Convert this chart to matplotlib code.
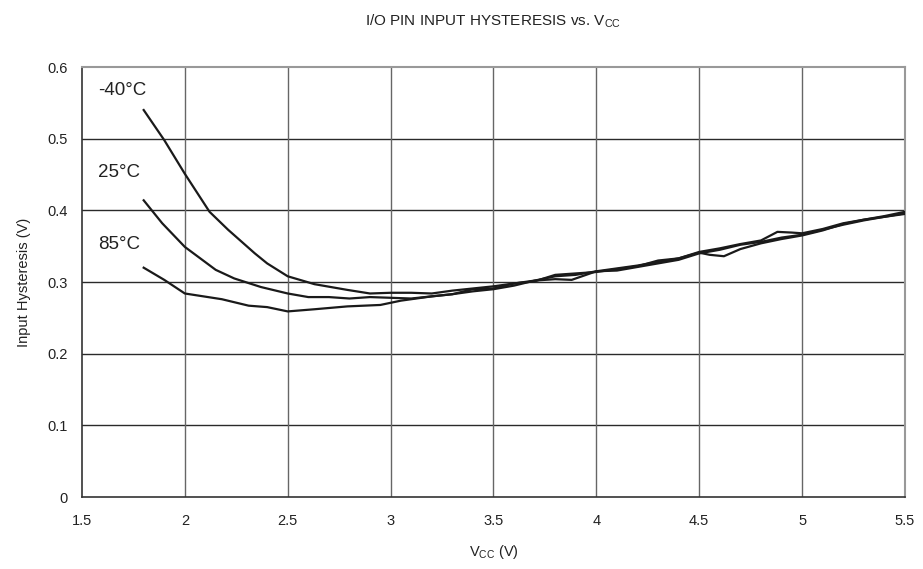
import matplotlib
matplotlib.use("Agg")
import matplotlib.pyplot as plt

plt.rcParams['font.family'] = ['Liberation Sans', 'DejaVu Sans']
plt.rcParams['mathtext.fontset'] = 'custom'
plt.rcParams['mathtext.rm'] = 'Liberation Sans'
plt.rcParams['mathtext.it'] = 'Liberation Sans'

# Data
x_m40 = [1.80, 1.90, 2.00, 2.12, 2.21, 2.34, 2.40, 2.50, 2.63, 2.79, 2.90, 3.00, 3.10, 3.20,
         3.30, 3.40, 3.50, 3.60, 3.70, 3.80, 3.90, 4.00, 4.10, 4.20, 4.30, 4.40, 4.50, 4.60,
         4.70, 4.80, 4.88, 4.95, 5.00, 5.10, 5.20, 5.30, 5.40, 5.50]
y_m40 = [0.540, 0.498, 0.451, 0.398, 0.373, 0.340, 0.326, 0.308, 0.297, 0.289, 0.284, 0.285,
         0.285, 0.284, 0.288, 0.291, 0.294, 0.298, 0.302, 0.308, 0.310, 0.315, 0.319, 0.323,
         0.328, 0.333, 0.342, 0.347, 0.353, 0.358, 0.370, 0.369, 0.368, 0.374, 0.382, 0.387,
         0.392, 0.398]

x_25 = [1.80, 1.89, 2.00, 2.15, 2.24, 2.37, 2.50, 2.60, 2.70, 2.80, 2.90, 3.00, 3.10, 3.20,
        3.30, 3.40, 3.50, 3.60, 3.70, 3.80, 3.90, 4.00, 4.10, 4.20, 4.30, 4.40, 4.50, 4.55,
        4.62, 4.70, 4.80, 4.90, 5.00, 5.10, 5.20, 5.30, 5.40, 5.50]
y_25 = [0.414, 0.382, 0.349, 0.317, 0.305, 0.293, 0.284, 0.279, 0.279, 0.277, 0.279, 0.278,
        0.277, 0.280, 0.283, 0.290, 0.291, 0.298, 0.301, 0.310, 0.312, 0.314, 0.318, 0.322,
        0.330, 0.333, 0.341, 0.338, 0.336, 0.346, 0.354, 0.360, 0.365, 0.372, 0.381, 0.387,
        0.391, 0.396]

x_85 = [1.80, 1.90, 2.00, 2.18, 2.31, 2.40, 2.50, 2.63, 2.79, 2.95, 3.05, 3.20, 3.30, 3.40,
        3.50, 3.60, 3.70, 3.80, 3.88, 3.95, 4.00, 4.10, 4.20, 4.30, 4.40, 4.50, 4.60, 4.70,
        4.80, 4.90, 5.00, 5.10, 5.20, 5.30, 5.40, 5.50]
y_85 = [0.320, 0.303, 0.284, 0.276, 0.267, 0.265, 0.259, 0.262, 0.266, 0.268, 0.274, 0.280,
        0.283, 0.287, 0.290, 0.295, 0.302, 0.304, 0.303, 0.310, 0.315, 0.316, 0.321, 0.326,
        0.331, 0.340, 0.345, 0.352, 0.356, 0.362, 0.366, 0.373, 0.380, 0.386, 0.391, 0.395]

series = [("-40°C", x_m40, y_m40, 0.567),
          ("25°C", x_25, y_25, 0.453),
          ("85°C", x_85, y_85, 0.353)]

x_ticks = [1.5, 2, 2.5, 3, 3.5, 4, 4.5, 5, 5.5]
x_labels = ["1.5", "2", "2.5", "3", "3.5", "4", "4.5", "5", "5.5"]
y_ticks = [0, 0.1, 0.2, 0.3, 0.4, 0.5, 0.6]
y_labels = ["0", "0.1", "0.2", "0.3", "0.4", "0.5", "0.6"]

fig = plt.figure(figsize=(9.23, 5.69), dpi=100)
ax = fig.add_axes([0.0888, 0.1265, 0.8917, 0.7557])

# grid: horizontal dark, vertical lighter
for yv in y_ticks[1:-1]:
    ax.axhline(yv, color="#2a2a2a", lw=1.0, zorder=1)
for xv in x_ticks[1:-1]:
    ax.axvline(xv, color="#666666", lw=1.0, zorder=1)

for name, xs, ys, ly in series:
    ax.plot(xs, ys, color="#1a1a1a", lw=1.6, zorder=3, solid_joinstyle="round")
    ax.text(1.577, ly, name, fontsize=13.5, ha="left", va="center", color="#222222")

ax.set_xlim(1.5, 5.5)
ax.set_ylim(0, 0.6)
ax.set_xticks(x_ticks)
ax.set_xticklabels(x_labels)
ax.set_yticks(y_ticks)
ax.set_yticklabels(y_labels)
ax.tick_params(axis="both", length=0, labelsize=10.5, colors="#222222")
ax.tick_params(axis="x", pad=12)
ax.tick_params(axis="y", pad=10)

for side in ["left", "bottom"]:
    ax.spines[side].set_color("#333333")
    ax.spines[side].set_linewidth(1.2)
for side in ["top", "right"]:
    ax.spines[side].set_color("#999999")
    ax.spines[side].set_linewidth(1.5)

ax.set_xlabel(r"V$_{\mathrm{CC}}$ (V)", fontsize=10.5, labelpad=11, color="#222222")
ax.set_ylabel("Input Hysteresis (V)", fontsize=10.5, labelpad=12, color="#222222")
fig.text(0.534, 0.962, r"I/O PIN INPUT HYSTERESIS vs. V$_{\mathrm{CC}}$",
         fontsize=11, ha="center", va="center", color="#222222")

fig.savefig("out.png", dpi=100)
